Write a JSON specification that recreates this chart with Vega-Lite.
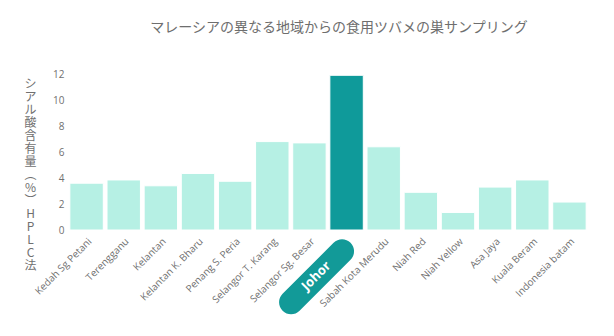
{
  "$schema": "https://vega.github.io/schema/vega-lite/v6.json",
  "width": 520,
  "height": 156,
  "autosize": {"type": "none"},
  "padding": {"left": 68, "top": 74, "right": 26, "bottom": 106},
  "background": "white",
  "config": {
    "view": {"stroke": null},
    "font": "Open Sans, Noto Sans CJK JP",
    "axisY": {"labelOverlap": false}
  },
  "title": {
    "text": "マレーシアの異なる地域からの食用ツバメの巣サンプリング",
    "fontSize": 14,
    "fontWeight": "normal",
    "color": "#6e6e6e",
    "font": "Noto Sans CJK JP",
    "anchor": "middle",
    "dx": 11,
    "offset": 34
  },
  "data": {
    "values": [
      {"region": "Kedah Sg Petani", "value": 3.6},
      {"region": "Terengganu", "value": 3.85},
      {"region": "Kelantan", "value": 3.4},
      {"region": "Kelantan K. Bharu", "value": 4.35},
      {"region": "Penang S. Peria", "value": 3.75},
      {"region": "Selangor T. Karang", "value": 6.8},
      {"region": "Selangor Sg. Besar", "value": 6.7},
      {"region": "Johor", "value": 11.9},
      {"region": "Sabah Kota Merudu", "value": 6.4},
      {"region": "Niah Red", "value": 2.9},
      {"region": "Niah Yellow", "value": 1.35},
      {"region": "Asa Jaya", "value": 3.3},
      {"region": "Kuala Beram", "value": 3.85},
      {"region": "Indonesia batam", "value": 2.15}
    ]
  },
  "encoding": {
    "x": {
      "field": "region",
      "type": "nominal",
      "sort": null,
      "scale": {
        "domain": ["Kedah Sg Petani", "Terengganu", "Kelantan", "Kelantan K. Bharu", "Penang S. Peria", "Selangor T. Karang", "Selangor Sg. Besar", "Johor", "Sabah Kota Merudu", "Niah Red", "Niah Yellow", "Asa Jaya", "Kuala Beram", "Indonesia batam"],
        "paddingInner": 0.1,
        "paddingOuter": 0.05
      },
      "axis": {
        "title": null,
        "labelAngle": -45,
        "labelFontSize": 10,
        "labelColor": "#707070",
        "labelPadding": 6,
        "ticks": false,
        "domain": false,
        "labelExpr": "datum.label == 'Johor' ? '' : datum.label"
      }
    },
    "y": {
      "type": "quantitative",
      "scale": {"domain": [0, 12], "nice": false},
      "axis": {
        "title": ["シ", "ア", "ル", "酸", "含", "有", "量", "︵", "%", "︶", "H", "P", "L", "C", "法"],
        "titleAngle": 0,
        "titleX": -38,
        "titleY": 4,
        "titleAlign": "center",
        "titleBaseline": "top",
        "titleFontSize": 12,
        "titleFontWeight": "normal",
        "titleColor": "#707070",
        "titleLineHeight": 13,
        "titleFont": "Noto Sans CJK JP",
        "values": [0, 2, 4, 6, 8, 10, 12],
        "labelOverlap": false,
        "labelFontSize": 10,
        "labelColor": "#707070",
        "labelPadding": 4,
        "ticks": false,
        "domain": false,
        "grid": false
      }
    }
  },
  "layer": [
    {
      "mark": {"type": "bar", "stroke": "white", "strokeWidth": 1},
      "encoding": {
        "y": {"field": "value"},
        "color": {
          "condition": {"test": "datum.region == 'Johor'", "value": "#0f9a9a"},
          "value": "#b6f0e4"
        }
      }
    },
    {
      "transform": [{"filter": "datum.region == 'Johor'"}],
      "mark": {
        "type": "point",
        "filled": true,
        "opacity": 1,
        "strokeWidth": 0,
        "size": 10000,
        "color": "#129a98",
        "shape": "M -0.2597 -0.6797 C -0.1659 -0.7735 -0.0141 -0.7735 0.0797 -0.6797 C 0.1735 -0.5859 0.1735 -0.4341 0.0797 -0.3403 L -0.9403 0.6797 C -1.0341 0.7735 -1.1859 0.7735 -1.2797 0.6797 C -1.3735 0.5859 -1.3735 0.4341 -1.2797 0.3403 Z"
      },
      "encoding": {
        "y": {"datum": -3.6}
      }
    },
    {
      "transform": [{"filter": "datum.region == 'Johor'"}],
      "mark": {
        "type": "text",
        "angle": -45,
        "align": "center",
        "baseline": "middle",
        "dx": -21,
        "dy": -22,
        "fontSize": 13,
        "fontWeight": "bold",
        "color": "white",
        "font": "Open Sans"
      },
      "encoding": {
        "y": {"datum": -3.6},
        "text": {"field": "region"}
      }
    }
  ]
}
